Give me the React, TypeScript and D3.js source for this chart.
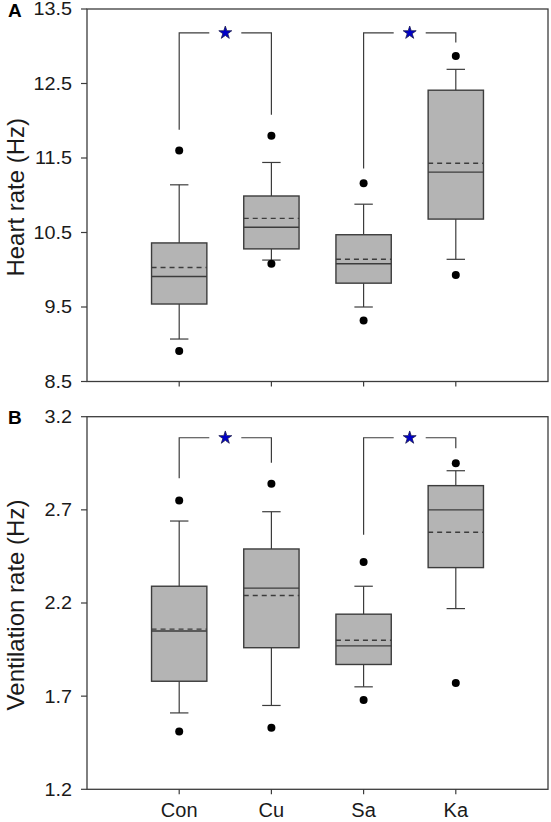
import React from "react";
import * as d3 from "d3";

const categories = ["Con", "Cu", "Sa", "Ka"];

// Heart rate (Hz)
const hrQ1 = [9.54, 10.28, 9.82, 10.68];
const hrMedian = [9.91, 10.57, 10.08, 11.31];
const hrMean = [10.03, 10.69, 10.14, 11.43];
const hrQ3 = [10.36, 10.99, 10.47, 12.41];
const hrWhiskerLow = [9.07, 10.13, 9.5, 10.14];
const hrWhiskerHigh = [11.14, 11.44, 10.88, 12.69];
const hrOutlierLow = [8.91, 10.08, 9.32, 9.93];
const hrOutlierHigh = [11.6, 11.8, 11.16, 12.87];
const hrTicks = [8.5, 9.5, 10.5, 11.5, 12.5, 13.5];
const hrBrackets = [
  { from: "Con", to: "Cu", top: 13.18, fromEnd: 11.88, toEnd: 12.08 },
  { from: "Sa", to: "Ka", top: 13.18, fromEnd: 11.36, toEnd: 13.05 },
];

// Ventilation rate (Hz)
const vrQ1 = [1.78, 1.96, 1.87, 2.39];
const vrMedian = [2.05, 2.28, 1.97, 2.7];
const vrMean = [2.06, 2.24, 2.0, 2.58];
const vrQ3 = [2.29, 2.49, 2.14, 2.83];
const vrWhiskerLow = [1.61, 1.65, 1.75, 2.17];
const vrWhiskerHigh = [2.64, 2.69, 2.29, 2.91];
const vrOutlierLow = [1.51, 1.53, 1.68, 1.77];
const vrOutlierHigh = [2.75, 2.84, 2.42, 2.95];
const vrTicks = [1.2, 1.7, 2.2, 2.7, 3.2];
const vrBrackets = [
  { from: "Con", to: "Cu", top: 3.087, fromEnd: 2.87, toEnd: 2.953 },
  { from: "Sa", to: "Ka", top: 3.087, fromEnd: 2.566, toEnd: 3.03 },
];

const LINE = "#3c3c3c";
const FILL = "#b4b4b4";
const FONT = "Liberation Sans, Arial, sans-serif";

const xScale = d3.scaleLinear().domain([0, 5]).range([87, 548]);
const xOf = (c: string) => xScale(categories.indexOf(c) + 1);
const starPath = d3.symbol(d3.symbolStar, 52)() as string;

type PanelProps = {
  letter: string;
  title: string;
  top: number;
  bottom: number;
  domain: [number, number];
  ticks: number[];
  q1: number[];
  med: number[];
  mean: number[];
  q3: number[];
  wl: number[];
  wh: number[];
  ol: number[];
  oh: number[];
  brackets: { from: string; to: string; top: number; fromEnd: number; toEnd: number }[];
  showXLabels: boolean;
  fmt: (v: number) => string;
};

function Panel(p: PanelProps) {
  const y = d3.scaleLinear().domain(p.domain).range([p.bottom, p.top]);
  const left = xScale.range()[0];
  const right = xScale.range()[1];
  const bw = (xScale(1) - xScale(0)) * 0.6;
  const cw = (xScale(1) - xScale(0)) * 0.2;
  const gap = 16;
  return (
    <g>
      {/* frame */}
      <rect x={left} y={p.top} width={right - left} height={p.bottom - p.top} fill="none" stroke={LINE} strokeWidth={1.3} />
      {/* y ticks */}
      {p.ticks.map((t) => (
        <g key={t}>
          <line x1={left - 6} x2={left} y1={y(t)} y2={y(t)} stroke={LINE} strokeWidth={1.2} />
          <text
            transform={`translate(${left - 15},${y(t)}) scale(1.1,1)`}
            dy="0.36em"
            textAnchor="end"
            fontSize={18}
            fontFamily={FONT}
            fill="#1a1a1a"
          >
            {p.fmt(t)}
          </text>
        </g>
      ))}
      {/* x ticks */}
      {categories.map((c, i) => (
        <g key={c}>
          <line x1={xScale(i + 1)} x2={xScale(i + 1)} y1={p.bottom} y2={p.bottom + 5} stroke={LINE} strokeWidth={1.2} />
          {p.showXLabels && (
            <text x={xScale(i + 1)} y={p.bottom + 27.5} textAnchor="middle" fontSize={20} fontFamily={FONT} fill="#1a1a1a">
              {c}
            </text>
          )}
        </g>
      ))}
      {/* boxes */}
      {categories.map((c, i) => {
        const cx = xScale(i + 1);
        return (
          <g key={c}>
            <line x1={cx} x2={cx} y1={y(p.q3[i])} y2={y(p.wh[i])} stroke={LINE} strokeWidth={1.2} />
            <line x1={cx} x2={cx} y1={y(p.q1[i])} y2={y(p.wl[i])} stroke={LINE} strokeWidth={1.2} />
            <line x1={cx - cw / 2} x2={cx + cw / 2} y1={y(p.wh[i])} y2={y(p.wh[i])} stroke={LINE} strokeWidth={1.2} />
            <line x1={cx - cw / 2} x2={cx + cw / 2} y1={y(p.wl[i])} y2={y(p.wl[i])} stroke={LINE} strokeWidth={1.2} />
            <rect x={cx - bw / 2} y={y(p.q3[i])} width={bw} height={y(p.q1[i]) - y(p.q3[i])} fill={FILL} stroke={LINE} strokeWidth={1.4} />
            <line x1={cx - bw / 2} x2={cx + bw / 2} y1={y(p.med[i])} y2={y(p.med[i])} stroke={LINE} strokeWidth={1.4} />
            <line x1={cx - bw / 2} x2={cx + bw / 2} y1={y(p.mean[i])} y2={y(p.mean[i])} stroke={LINE} strokeWidth={1.4} strokeDasharray="5,4" />
            <circle cx={cx} cy={y(p.oh[i])} r={4} fill="#000" />
            <circle cx={cx} cy={y(p.ol[i])} r={4} fill="#000" />
          </g>
        );
      })}
      {/* significance brackets */}
      {p.brackets.map((b, k) => {
        const x1 = xOf(b.from);
        const x2 = xOf(b.to);
        const mid = (x1 + x2) / 2;
        const yt = y(b.top);
        return (
          <g key={k}>
            <path d={`M${x1},${y(b.fromEnd)}V${yt}H${mid - gap}`} fill="none" stroke={LINE} strokeWidth={1.2} />
            <path d={`M${mid + gap},${yt}H${x2}V${y(b.toEnd)}`} fill="none" stroke={LINE} strokeWidth={1.2} />
            <path d={starPath} transform={`translate(${mid},${yt})`} fill="#0000c8" stroke="#1a1a50" strokeWidth={0.8} />
          </g>
        );
      })}
      {/* panel letter */}
      <text x={8} y={p.top + 7.5} fontSize={19} fontWeight="bold" fontFamily={FONT} fill="#000">
        {p.letter}
      </text>
      {/* y-axis title */}
      <text
        transform={`translate(23.5,${(p.top + p.bottom) / 2 + 2}) rotate(-90)`}
        textAnchor="middle"
        fontSize={24}
        fontFamily={FONT}
        fill="#1a1a1a"
      >
        {p.title}
      </text>
    </g>
  );
}

export default function App() {
  return (
    <svg width={551} height={822} style={{ position: "absolute", left: 0, top: 0, background: "#fff" }}>
      <Panel
        letter="A"
        title="Heart rate (Hz)"
        top={9}
        bottom={381.5}
        domain={[8.5, 13.5]}
        ticks={hrTicks}
        q1={hrQ1}
        med={hrMedian}
        mean={hrMean}
        q3={hrQ3}
        wl={hrWhiskerLow}
        wh={hrWhiskerHigh}
        ol={hrOutlierLow}
        oh={hrOutlierHigh}
        brackets={hrBrackets}
        showXLabels={false}
        fmt={(v) => v.toFixed(1)}
      />
      <Panel
        letter="B"
        title="Ventilation rate (Hz)"
        top={416.7}
        bottom={789.3}
        domain={[1.2, 3.2]}
        ticks={vrTicks}
        q1={vrQ1}
        med={vrMedian}
        mean={vrMean}
        q3={vrQ3}
        wl={vrWhiskerLow}
        wh={vrWhiskerHigh}
        ol={vrOutlierLow}
        oh={vrOutlierHigh}
        brackets={vrBrackets}
        showXLabels={true}
        fmt={(v) => v.toFixed(1)}
      />
    </svg>
  );
}
